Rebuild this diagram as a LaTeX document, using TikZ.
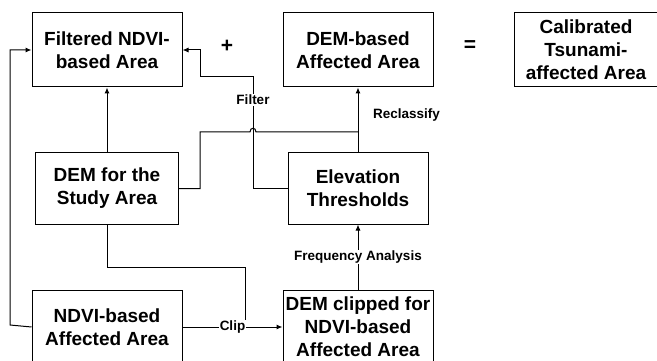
\documentclass[tikz,border=0pt]{standalone}
\usepackage{fontspec}
\setmainfont{Liberation Sans}
\usetikzlibrary{arrows.meta,positioning}
\tikzset{
    box/.style={rectangle,draw,line width=1pt,align=center,inner sep=0pt,
        font=\bfseries\fontsize{19}{23}\selectfont},
    tag/.style={fill=white,inner sep=1pt,font=\bfseries\fontsize{13.5}{16}\selectfont},
    sign/.style={font=\bfseries\fontsize{21}{24}\selectfont},
    pre/.style={-{Latex[length=6pt,width=5pt]},line width=1pt},
    link/.style={line width=1pt}
}

\begin{document}
\begin{tikzpicture}[x=1pt,y=-1pt]

                \useasboundingbox (0,0) rectangle (657,361);

                \node[box] (filtered)   [minimum width=150pt,minimum height=74pt] at (107,50) {Filtered NDVI-\\based Area};
                \node[box] (dem based)  [minimum width=150pt,minimum height=74pt,right=100pt of filtered] {DEM-based\\Affected Area};
                \node[box] (calibrated) [minimum width=144pt,minimum height=74pt,right=80pt of dem based] {Calibrated\\Tsunami-\\affected Area};

                \node[sign] (plus)   at (227,46) {+};
                \node[sign] (equals) at (470,46) {=};

                \node[box] (study)     [minimum width=143pt,minimum height=71pt,below=65pt of filtered]  {DEM for the\\Study Area};
                \node[box] (elevation) [minimum width=140pt,minimum height=71pt,below=65pt of dem based] {Elevation\\Thresholds};

                \node[box] (ndvi)    [minimum width=150pt,minimum height=74pt,below=65pt of study]     {NDVI-based\\Affected Area};
                \node[box] (clipped) [minimum width=150pt,minimum height=74pt,below=65pt of elevation] {DEM clipped for\\NDVI-based\\Affected Area};

                % bends of the connectors
                \coordinate (loop corner)   at (10,325);
                \coordinate (filter bend)   at (253,77);
                \coordinate (filter knee)   at (200,77);
                \coordinate (reclass knee)  at (200,132);
                \coordinate (clip knee)     at (245,267);

                \draw[pre] (study.north) -- (filtered.south);
                \draw[pre] (ndvi.west) -- (loop corner) |- (filtered.west);

                \draw[pre] (elevation.west) -| (filter bend) -- (filter knee) |- (filtered.east);
                \draw[link] (study.east) -| (reclass knee) -- (250,132)
                    .. controls (250,127) and (256,127) .. (256,132) -- (elevation.north |- reclass knee);
                \draw[pre] (elevation.north) -- (dem based.south);

                \draw[link] (study.south) |- (clip knee) -- (clip knee |- ndvi.east);
                \draw[pre] (ndvi.east) -- node[tag] (clip label) {Clip} (clipped.west);
                \draw[pre] (clipped.north) -- node[tag] (frequency label) {Frequency Analysis} (elevation.south);

                \node[tag] (filter label) at (253,100) {Filter};
                \node[tag,anchor=west] (reclass label) at (372,115) {Reclassify};

            \end{tikzpicture}
\end{document}
